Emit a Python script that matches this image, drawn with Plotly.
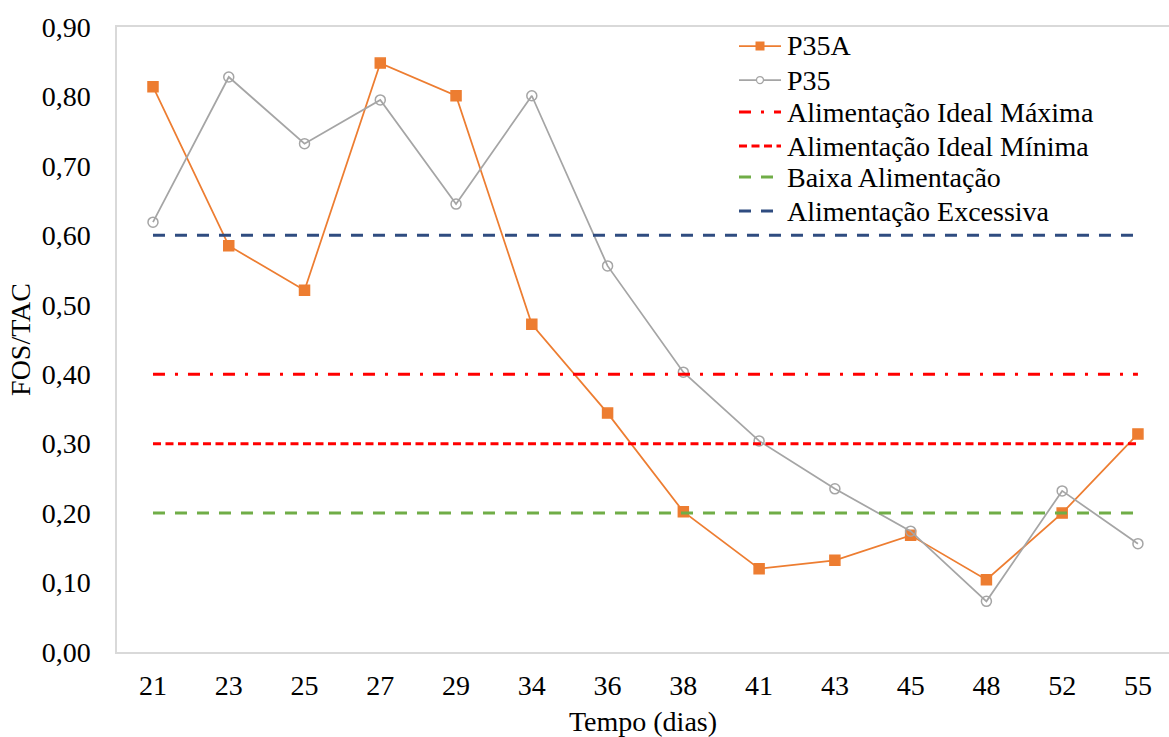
import plotly.graph_objects as go

# Sampling days (category axis)
dias = ["21", "23", "25", "27", "29", "34", "36", "38", "41", "43", "45", "48", "52", "55"]

# FOS/TAC ratio per reactor
p35a = [0.814, 0.585, 0.521, 0.848, 0.801, 0.472, 0.344, 0.202, 0.120, 0.132, 0.168, 0.104, 0.200, 0.314]
p35 = [0.619, 0.828, 0.732, 0.795, 0.645, 0.801, 0.556, 0.403, 0.304, 0.235, 0.174, 0.073, 0.232, 0.156]

# Feeding reference levels
ideal_max = 0.40
ideal_min = 0.30
baixa = 0.20
excessiva = 0.60

y_ticks = [0.0, 0.1, 0.2, 0.3, 0.4, 0.5, 0.6, 0.7, 0.8, 0.9]
y_tick_text = ["0,00", "0,10", "0,20", "0,30", "0,40", "0,50", "0,60", "0,70", "0,80", "0,90"]

xpos = list(range(len(dias)))
FONT = "Liberation Serif"
FS = 28

# Figure geometry (pixels)
W, H = 1169, 737
ML, MR, MT, MB = 117, 0, 27, 85
PW, PH = W - ML - MR, H - MT - MB


def px_x(x):
    return (x - ML) / PW


def px_y(y):
    return (H - MB - y) / PH


ORANGE = "#ED7D31"
GREY = "#A5A5A5"

series_style = [
    ("P35A", p35a, ORANGE, "square"),
    ("P35", p35, GREY, "circle-open"),
]
ref_style = [
    ("Alimentação Ideal Máxima", ideal_max, "#FF0000", "12px,10px,3px,10px"),
    ("Alimentação Ideal Mínima", ideal_min, "#FF0000", "8px,4.5px"),
    ("Baixa Alimentação", baixa, "#70AD47", "12px,10px"),
    ("Alimentação Excessiva", excessiva, "#2F4C80", "12px,10px"),
]

fig = go.Figure()

for name, vals, color, sym in series_style:
    fig.add_trace(go.Scatter(
        x=xpos, y=vals, name=name, mode="lines+markers",
        line=dict(color=color, width=1.75),
        marker=dict(symbol=sym, size=10, color=color, line=dict(width=1.5, color=color)),
    ))

for name, level, color, dash in ref_style:
    fig.add_trace(go.Scatter(
        x=xpos, y=[level] * len(xpos), name=name, mode="lines",
        line=dict(color=color, width=3, dash=dash),
    ))

# Legend block (top right): line samples as shapes, labels as annotations
LEG_X0, LEG_X1, LEG_TX = 739, 781, 785
row_y = [46, 80, 112, 146, 177, 211]
entries = [(n, c, None, 1.75, s) for n, _, c, s in series_style] + \
          [(n, c, d, 3, None) for n, _, c, d in ref_style]

shapes = []
annotations = []
for (name, color, dash, width, sym), ry in zip(entries, row_y):
    shapes.append(dict(
        type="line", xref="paper", yref="paper",
        x0=px_x(LEG_X0), x1=px_x(LEG_X1), y0=px_y(ry), y1=px_y(ry),
        line=dict(color=color, width=width, dash=dash or "solid"),
    ))
    cx = (LEG_X0 + LEG_X1) / 2
    if sym == "square":
        shapes.append(dict(
            type="rect", xref="paper", yref="paper",
            x0=px_x(cx - 4.5), x1=px_x(cx + 4.5), y0=px_y(ry + 4.5), y1=px_y(ry - 4.5),
            fillcolor=color, line=dict(width=0),
        ))
    elif sym == "circle-open":
        shapes.append(dict(
            type="circle", xref="paper", yref="paper",
            x0=px_x(cx - 3.5), x1=px_x(cx + 3.5), y0=px_y(ry + 3.5), y1=px_y(ry - 3.5),
            fillcolor="white", line=dict(color=color, width=1.25),
        ))
    annotations.append(dict(
        xref="paper", yref="paper", x=px_x(LEG_TX), y=px_y(ry),
        xanchor="left", yanchor="middle", showarrow=False, text=name,
        font=dict(family=FONT, size=FS, color="black"),
    ))

fig.update_layout(
    width=W, height=H,
    margin=dict(l=ML, r=MR, t=MT, b=MB),
    paper_bgcolor="white", plot_bgcolor="white",
    font=dict(family=FONT, size=FS, color="black"),
    showlegend=False,
    shapes=shapes,
    annotations=annotations,
)

fig.update_xaxes(
    range=[-0.475, 13.41],
    tickmode="array", tickvals=xpos, ticktext=dias,
    showgrid=False, zeroline=False,
    showline=True, linecolor="#D9D9D9", linewidth=1.5, mirror=True,
    ticks="", ticklabelstandoff=8,
    tickfont=dict(family=FONT, size=FS, color="black"),
    title=dict(text="Tempo (dias)", font=dict(family=FONT, size=FS, color="black"), standoff=11),
)
fig.update_yaxes(
    range=[0, 0.9],
    tickmode="array", tickvals=y_ticks, ticktext=y_tick_text,
    showgrid=False, zeroline=False,
    showline=True, linecolor="#D9D9D9", linewidth=1.5, mirror=False,
    ticks="", ticklabelstandoff=19,
    tickfont=dict(family=FONT, size=FS, color="black"),
    title=dict(text="FOS/TAC", font=dict(family=FONT, size=FS, color="black"), standoff=3),
)

fig.write_html("out.html")
